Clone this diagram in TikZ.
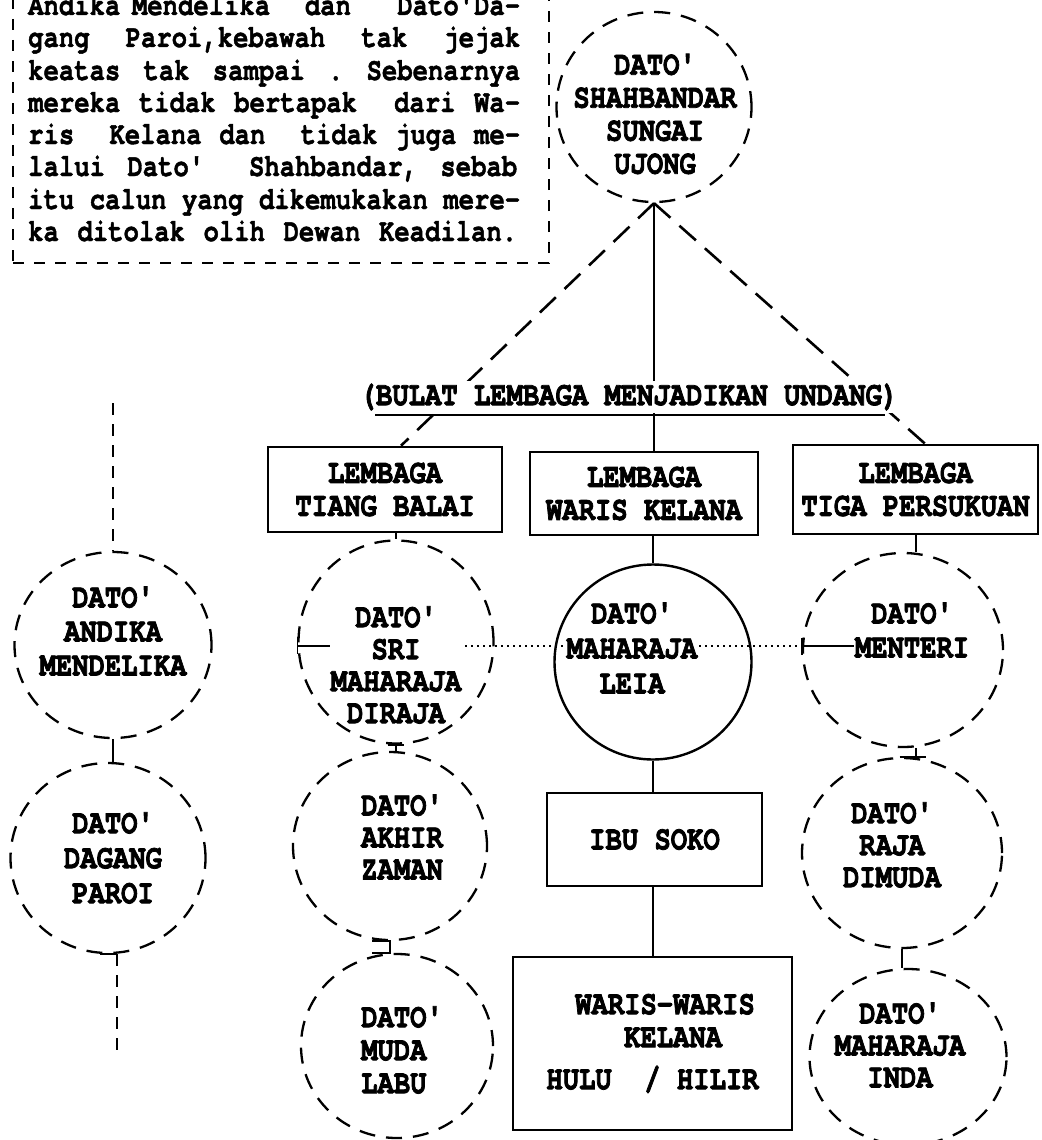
\documentclass[tikz,border=0pt]{standalone}
\usepackage{fontspec}
\usetikzlibrary{shapes.geometric,backgrounds,calc}
\newfontfamily\labfont[FakeStretch=0.8, BoldFeatures={FakeBold=2.2}]{TeX Gyre Cursor}
\newfontfamily\parfont[FakeStretch=0.8, BoldFeatures={FakeBold=1.3}]{TeX Gyre Cursor}
\begin{document}
\begin{tikzpicture}[x=1pt,y=-1pt,
  lab/.style={font=\labfont\bfseries\fontsize{34}{#1}\selectfont, align=center, inner sep=1pt, fill=white},
  lab/.default=33,
  parline/.style={font=\parfont\bfseries\fontsize{32}{32}\selectfont, inner sep=0pt, anchor=base west},
  circ/.style 2 args={ellipse, draw, line width=2.3pt, dash pattern=on 16pt off 11pt, inner sep=0pt, minimum width=#1, minimum height=#2},
  solidcirc/.style 2 args={ellipse, draw, line width=2.4pt, inner sep=0pt, minimum width=#1, minimum height=#2},
  box/.style 2 args={rectangle, draw, line width=2.6pt, inner sep=0pt, minimum width=#1, minimum height=#2, align=center, font=\labfont\bfseries\fontsize{34}{33}\selectfont},
  frame/.style={rectangle, draw, line width=2pt, dash pattern=on 11pt off 10pt, minimum width=536, minimum height=300, inner sep=0pt},
  conn/.style={line width=2.6pt},
  dconn/.style={line width=2.6pt, dash pattern=on 22pt off 12pt},
  vdash/.style={line width=2.2pt, dash pattern=on 12pt off 9pt},
  tick/.style={line width=2pt},
  dotline/.style={line width=1.3pt, dash pattern=on 2pt off 4pt}
]
\useasboundingbox (0,0) rectangle (1041,1140);

% ---- paragraph box ----
\node[frame] (frame) at (281,113) {};
\node[parline] (p1) at (28,15)  {\makebox[492pt][l]{Andika\hfill Mendelika\hfill\hfill\hfill dan\hfill\hfill\hfill\hfill Dato'Da-}};
\node[parline] (p2) at (28,47)  {\makebox[492pt][l]{gang\hfill Paroi,kebawah\hfill tak\hfill jejak}};
\node[parline] (p3) at (28,80)  {\makebox[492pt][l]{keatas\hfill tak\hfill sampai\hfill .\hfill Sebenarnya}};
\node[parline] (p4) at (28,112) {\makebox[492pt][l]{mereka\hfill tidak\hfill bertapak\hfill\hfill dari\hfill Wa-}};
\node[parline] (p5) at (28,144) {\makebox[492pt][l]{ris\hfill\hfill Kelana\hfill dan\hfill\hfill tidak\hfill juga\hfill me-}};
\node[parline] (p6) at (28,176) {\makebox[489pt][l]{lalui\hfill Dato'\hfill\hfill Shahbandar,\hfill sebab}};
\node[parline] (p7) at (28,209) {\makebox[492pt][l]{itu\hfill calun\hfill yang\hfill dikemukakan\hfill mere-}};
\node[parline] (p8) at (28,241) {\makebox[489pt][l]{ka\hfill ditolak\hfill olih\hfill Dewan\hfill Keadilan.}};

% ---- texts of the circles ----
\node[lab] (shah-t) at (655,114) {DATO'\\SHAHBANDAR\\SUNGAI\\UJONG};
\node[lab=34] (andika-t) at (113,631) {DATO'\\ANDIKA\\MENDELIKA};
\node[lab=35] (dagang-t) at (113,858) {DATO'\\DAGANG\\PAROI};
\node[lab=32] (sri-t) at (396,665) {DATO'\\SRI\\MAHARAJA\\DIRAJA};
\node[lab=32, anchor=west, align=left] (akhir-t) at (360,837) {DATO'\\AKHIR\\ZAMAN};
\node[lab=33, anchor=west, align=left] (muda-t) at (360,1050) {DATO'\\MUDA\\LABU};
\node[lab=35] (leia-t) at (632,648) {DATO'\\MAHARAJA\\LEIA};
\node[lab=34] (menteri-t) at (912,630) {DATO'\\MENTERI};
\node[lab=32] (raja-t) at (892,845) {DATO'\\RAJA\\DIMUDA};
\node[lab=32] (inda-t) at (900,1045) {DATO'\\MAHARAJA\\INDA};

% ---- circles ----
\node[circ={195}{190}] (shah) at (654,107) {};
\node[circ={197}{186}] (andika) at (113,645) {};
\node[circ={195}{190}] (dagang) at (108,858) {};
\node[circ={195}{203}] (sri) at (396,642) {};
\node[circ={194}{188}] (akhir) at (390,846) {};
\node[circ={192}{184}] (muda) at (397,1046) {};
\node[solidcirc={197}{195}] (leia) at (653,662) {};
\node[circ={200}{194}] (menteri) at (903,650) {};
\node[circ={200}{190}] (raja) at (902,853) {};
\node[circ={197}{176}] (inda) at (908,1057) {};

% ---- boxes ----
\node[box={234}{85}] (tb) at (385,489.5) {LEMBAGA\\TIANG BALAI};
\node[box={228}{83}] (wk) at (644,493.5) {LEMBAGA\\WARIS KELANA};
\node[box={245}{89}] (tp) at (915.5,489.5) {LEMBAGA\\TIGA PERSUKUAN};
\node[box={215}{93}] (ibu) at (654.5,839.5) {IBU SOKO};
\node[box={279}{173}] (ww) at (652.5,1043.5) {\hspace*{25pt}WARIS-WARIS\\\hspace*{41pt}KELANA\\[9pt]HULU\ \ / HILIR};

% ---- heading ----
\node[lab, inner sep=3pt] (bulat) at (629,397) {(BULAT LEMBAGA MENJADIKAN UNDANG)};
\coordinate (ul1) at (375,415);
\coordinate (ul2) at (885,415);
\draw[line width=2pt] (ul1) -- (ul2);

\coordinate (atop) at (113,403);
\coordinate (dbot) at (117,1057);

% ---- connectors ----
\begin{scope}[on background layer]
  \draw[dconn] (shah.south) -- ([xshift=16pt]tb.north);
  \draw[dconn] (shah.south) -- ([xshift=9.5pt]tp.north);
  \draw[conn] (shah.south) -- (shah.south |- wk.north);
  \draw[conn] (leia.north |- wk.south) -- (leia.north);
  \draw[conn] (leia.south) -- (leia.south |- ibu.north);
  \draw[conn] (ibu.south -| leia.south) -- (ww.north -| leia.south);
  \draw[tick] (sri.north |- tb.south) -- (sri.north);
  \draw[tick] (tp.south) -- (tp.south |- menteri.north);
  \draw[tick] ([xshift=-8pt]sri.south) -- ([xshift=8pt]sri.south);
  \draw[tick] (sri.south) -- (sri.south |- akhir.north);
  \draw[tick] ([xshift=-18pt]akhir.south) -- (akhir.south) -- (akhir.south |- muda.north) -- ++(-18,0);
  \draw[tick] (menteri.south -| tp.south) -- (raja.north -| tp.south);
  \draw[tick] ([xshift=-16pt]raja.north -| tp.south) -- ([xshift=10pt]raja.north -| tp.south);
  \draw[tick] (raja.south) -- (raja.south |- inda.north);
  \draw[vdash] (atop) -- (andika.north);
  \draw[tick] (andika.south) -- (andika.south |- dagang.north);
  \draw[tick] ([xshift=-17pt]dbot |- dagang.south) -- (dbot |- dagang.south);
  \draw[vdash] (dbot |- dagang.south) -- (dbot);
  % dotted cross line
  \draw[dotline] ([yshift=-4pt]sri.west) -- ([yshift=-4pt]sri.west -| menteri-t.west);
  \draw[line width=1.5pt] ([yshift=5pt]sri.west) -- ([yshift=-12pt]sri.west);
  \draw[line width=1.5pt] ([yshift=-4pt]sri.west) -- ++(35,0);
  \draw[line width=1.5pt] ([yshift=12pt]menteri.west) -- ([yshift=-5pt]menteri.west);
  \draw[line width=1.5pt] ([yshift=4pt]menteri.west) -- ([yshift=4pt]menteri.west -| menteri-t.west);
\end{scope}
\end{tikzpicture}
\end{document}
